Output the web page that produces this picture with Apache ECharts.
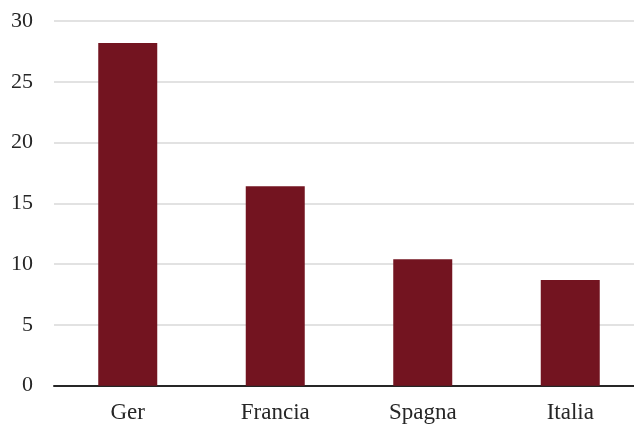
<!DOCTYPE html>
<html>
<head>
<meta charset="utf-8">
<script src="https://cdn.jsdelivr.net/npm/echarts@6/dist/echarts.min.js"></script>
<style>html,body{margin:0;padding:0;background:#fff;overflow:hidden;width:634px;height:426px;}#c{width:645px;height:426px;}</style>
</head>
<body>
<div id="c"></div>
<script>
var categories = ["Ger", "Francia", "Spagna", "Italia"];
var values = [28.2, 16.4, 10.4, 8.7];
var yTicks = [0, 5, 10, 15, 20, 25, 30];

var chart = echarts.init(document.getElementById('c'), null, {renderer: 'canvas'});
chart.setOption({
  animation: false,
  backgroundColor: '#ffffff',
  grid: {left: 54, top: 21, bottom: 40.3, width: 590, containLabel: false},
  xAxis: {
    type: 'category',
    data: categories,
    axisLine: {show: true, lineStyle: {color: '#262626', width: 2}},
    axisTick: {show: false},
    axisLabel: {color: '#262626', fontFamily: 'Liberation Serif', fontSize: 23, margin: 16},
    splitLine: {show: false}
  },
  yAxis: {
    type: 'value',
    min: yTicks[0],
    max: yTicks[yTicks.length - 1],
    interval: 5,
    axisLine: {show: false},
    axisTick: {show: false},
    axisLabel: {color: '#262626', fontFamily: 'Liberation Serif', fontSize: 22, margin: 21},
    splitLine: {show: true, lineStyle: {color: '#d9d9d9', width: 1.5}}
  },
  series: [{
    type: 'bar',
    data: values,
    barWidth: 59,
    itemStyle: {color: '#731420'}
  }]
});
</script>
</body>
</html>
